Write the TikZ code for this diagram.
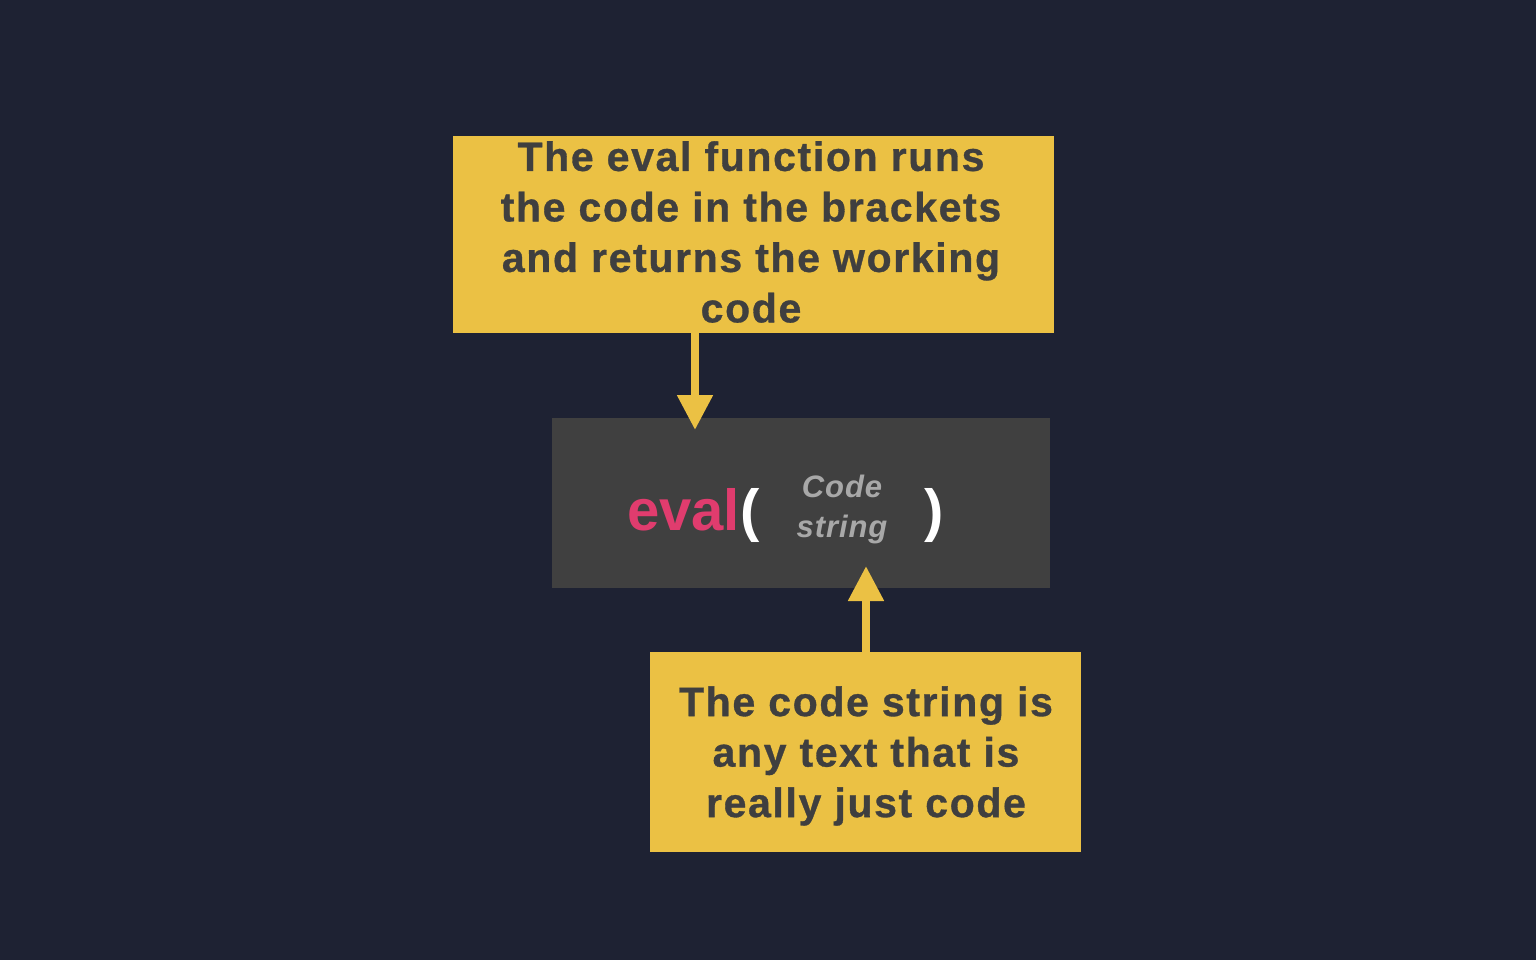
\documentclass[tikz,border=0pt]{standalone}
\usepackage{fontspec}
\setmainfont{Liberation Sans}
\newfontfamily\callfont{Liberation Sans}[LetterSpace=4, FakeBold=0.8]
\newfontfamily\strfont{Liberation Sans}[LetterSpace=3]
\usetikzlibrary{arrows.meta}
\definecolor{bgc}{HTML}{1E2233}
\definecolor{yel}{HTML}{EBC144}
\definecolor{txt}{HTML}{3F3F3F}
\definecolor{boxg}{HTML}{404040}
\definecolor{pinkc}{HTML}{E03C6E}
\definecolor{strg}{HTML}{A8A8A8}
\begin{document}
\begin{tikzpicture}[x=1pt,y=-1pt,
  callout/.style={fill=yel, draw=none, inner sep=0pt, anchor=north west},
  callouttext/.style={text=txt, font=\callfont\fontsize{41}{50.5}\selectfont\bfseries, align=center, inner sep=0pt},
  conn/.style={draw=yel, line width=8pt, -{Triangle[width=34pt,length=35pt]}}]
\fill[bgc] (0,0) rectangle (1536,960);
\useasboundingbox (0,0) rectangle (1536,960);
% boxes
\node[callout, minimum width=601pt, minimum height=197pt] (top) at (453,136) {};
\node[fill=boxg, inner sep=0pt, anchor=north west, minimum width=498pt, minimum height=170pt] (mid) at (552,418) {};
\node[callout, minimum width=431pt, minimum height=200pt] (bot) at (650,652) {};
% texts
\node[callouttext] (toptext) at (751,232) {The eval function runs\\the code in the brackets\\and returns the working\\code};
\node[callouttext] (bottext) at (866,756) {The code string is\\any text that is\\really just code};
\node[anchor=base west, inner sep=0pt, text=pinkc, font=\fontsize{58}{58}\selectfont\bfseries] (ev) at (627,530) {eval};
\node[anchor=base west, inner sep=0pt, text=white, font=\fontsize{58}{58}\selectfont\bfseries] (lp) at (ev.base east) {(};
\node[anchor=base, inner sep=0pt, text=white, font=\fontsize{58}{58}\selectfont\bfseries] (rp) at (934,530) {)};
\node[text=strg, font=\strfont\fontsize{31}{40}\selectfont\bfseries\itshape, align=center, inner sep=0pt] (cs) at (842,509) {Code\\string};
% connectors
\coordinate (t1) at (695,430);
\coordinate (t2) at (866,566);
\draw[conn] (top.south -| t1) -- (t1);
\draw[conn] (bot.north -| t2) -- (t2);
\end{tikzpicture}
\end{document}
